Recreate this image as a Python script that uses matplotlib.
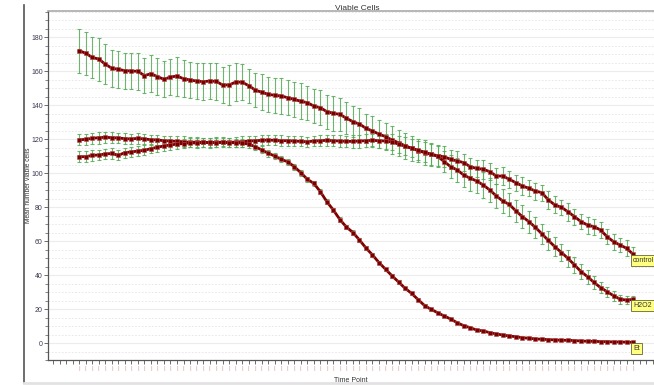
import numpy as np
import matplotlib
matplotlib.use("Agg")
import matplotlib.pyplot as plt
from matplotlib.lines import Line2D
from matplotlib.ticker import MultipleLocator, FixedLocator

plt.rcParams['font.family'] = ['Liberation Sans', 'DejaVu Sans']

control = [172.0, 170.4, 168.0, 167.0, 164.0, 161.6, 161.0, 160.2, 160.0, 159.8,
           157.3, 158.4, 156.7, 155.1, 156.5, 157.0, 155.5, 154.7, 154.1, 153.7,
           154.1, 153.9, 151.8, 151.8, 153.5, 153.4, 151.4, 148.8, 147.5, 146.3,
           145.7, 145.3, 144.3, 143.3, 142.2, 141.4, 139.4, 138.4, 136.1, 135.1,
           134.5, 132.2, 130.2, 128.8, 126.3, 124.7, 122.9, 121.4, 119.4, 117.8,
           116.0, 114.5, 113.2, 112.0, 111.0, 110.2, 109.6, 108.0, 107.1, 106.1,
           103.7, 102.7, 102.2, 100.8, 98.2, 98.2, 96.3, 94.3, 92.4, 91.0,
           89.4, 88.4, 84.1, 81.2, 79.8, 77.2, 74.3, 71.4, 69.4, 68.4,
           66.5, 62.5, 59.6, 57.6, 55.7, 52.2]
control_err = [12.9, 12.6, 12.2, 12.7, 11.6, 11.0, 11.0, 10.6, 10.8, 11.0,
               10.3, 10.9, 11.0, 10.5, 10.4, 11.5, 11.0, 10.6, 10.8, 10.8,
               10.8, 10.8, 10.4, 12.0, 11.3, 10.6, 10.0, 9.8, 10.6, 10.3,
               10.3, 10.3, 10.3, 10.5, 10.5, 10.0, 10.0, 10.3, 10.0, 10.2,
               9.6, 9.4, 9.0, 9.2, 8.6, 8.8, 8.2, 8.0, 8.4, 7.6,
               7.8, 7.2, 7.0, 7.4, 6.6, 6.2, 6.0, 5.6, 5.8, 5.2,
               5.4, 5.0, 5.6, 5.2, 4.8, 5.4, 5.0, 4.6, 5.2, 4.8,
               5.0, 4.6, 5.4, 5.0, 4.6, 5.2, 4.8, 4.4, 5.0, 4.6,
               4.8, 4.4, 4.6, 4.2, 4.6, 4.0]

h2o2 = [119.5, 119.8, 120.4, 120.8, 121.0, 120.8, 120.6, 120.2, 120.0, 120.4,
        120.0, 119.6, 119.4, 119.0, 118.8, 118.6, 118.4, 118.0, 118.2, 118.0,
        117.8, 118.0, 118.2, 118.0, 118.2, 118.4, 118.8, 119.0, 119.2, 119.4,
        119.2, 119.0, 119.0, 118.8, 118.6, 118.4, 118.8, 119.0, 119.2, 119.0,
        118.8, 118.6, 118.6, 118.8, 119.0, 119.2, 119.0, 118.8, 118.2, 117.0,
        115.8, 114.6, 113.4, 112.2, 111.0, 109.8, 106.7, 103.7, 101.8, 98.8,
        96.9, 95.3, 92.9, 90.0, 86.5, 83.5, 81.5, 77.7, 74.3, 71.4,
        68.0, 64.2, 60.3, 56.6, 53.2, 49.8, 45.9, 42.0, 39.0, 35.6,
        32.6, 30.2, 27.8, 25.8, 25.2, 25.7]
h2o2_err = [3.2, 3.4, 3.3, 3.5, 3.2, 3.1, 3.0, 3.3, 3.0, 3.1,
            3.0, 2.9, 3.1, 3.0, 2.8, 3.0, 3.1, 2.9, 3.0, 2.8,
            3.0, 2.9, 3.0, 2.8, 3.0, 3.1, 3.2, 3.0, 3.0, 3.1,
            3.0, 3.2, 3.0, 3.1, 3.0, 2.9, 3.0, 3.2, 3.4, 3.3,
            3.5, 3.4, 3.6, 3.8, 3.9, 4.0, 4.2, 4.4, 4.8, 5.0,
            5.2, 5.4, 5.6, 5.8, 6.0, 6.2, 6.4, 6.6, 6.8, 7.0,
            7.2, 7.0, 7.4, 7.2, 7.0, 7.2, 6.8, 6.6, 6.8, 6.4,
            6.2, 6.0, 5.8, 5.6, 5.2, 5.0, 4.6, 4.4, 4.0, 3.8,
            3.4, 3.0, 2.8, 2.6, 2.4, 2.2]

et = [109.6, 109.6, 110.4, 110.6, 111.2, 111.5, 110.4, 112.0, 112.4, 112.9,
      113.4, 114.3, 115.2, 115.9, 116.5, 117.0, 117.3, 117.8, 117.6, 118.0,
      118.0, 117.8, 118.0, 117.8, 117.8, 117.6, 117.0, 115.5, 113.6, 111.6,
      110.0, 108.0, 106.6, 103.7, 100.2, 96.3, 93.9, 89.0, 83.1, 78.2,
      72.6, 68.2, 65.0, 60.6, 55.9, 51.8, 47.3, 43.4, 39.5, 35.9,
      32.2, 29.2, 25.5, 22.0, 19.8, 17.8, 15.9, 14.1, 11.9, 10.2,
      9.0, 7.6, 7.1, 6.1, 5.3, 4.7, 4.1, 3.7, 3.1, 2.8,
      2.4, 2.2, 2.0, 1.8, 1.6, 1.6, 1.4, 1.2, 1.0, 1.0,
      0.8, 0.8, 0.6, 0.6, 0.5, 0.4]
et_err = [3.2, 3.4, 3.2, 3.0, 3.1, 3.0, 2.9, 3.0, 3.1, 3.0,
          3.0, 2.8, 2.9, 3.0, 2.8, 2.7, 2.8, 2.6, 2.7, 2.6,
          2.5, 2.6, 2.4, 2.5, 2.4, 2.3, 2.2, 2.0, 2.0, 1.9,
          1.9, 1.8, 1.8, 1.7, 1.7, 1.6, 1.6, 1.5, 1.5, 1.4,
          1.4, 1.3, 1.3, 1.2, 1.2, 1.1, 1.1, 1.0, 1.0, 0.9,
          0.9, 0.8, 0.8, 0.8, 0.7, 0.7, 0.6, 0.6, 0.6, 0.5,
          0.5, 0.5, 0.5, 0.4, 0.4, 0.4, 0.4, 0.3, 0.3, 0.3,
          0.3, 0.3, 0.3, 0.2, 0.2, 0.2, 0.2, 0.2, 0.2, 0.2,
          0.2, 0.2, 0.2, 0.2, 0.2, 0.2]

series = [("control", control, control_err),
          ("H2O2", h2o2, h2o2_err),
          ("Et", et, et_err)]

n_points = len(control)
time_points = np.arange(n_points)

fig = plt.figure(figsize=(6.54, 3.85), dpi=100)
ax = fig.add_axes([48.3 / 654, 25 / 385, 1 - 48.3 / 654, 349 / 385])

for name, vals, errs in series:
    ax.errorbar(time_points, vals, yerr=errs, fmt='none', ecolor='#55aa55',
                elinewidth=0.8, capsize=1.6, capthick=0.8, alpha=0.85, zorder=2)
for name, vals, errs in series:
    ax.plot(time_points, vals, color='#800000', lw=2.0, marker='s', ms=3.3,
            mfc='#7a0000', mec='#b05050', mew=0.4, zorder=3)
    ax.annotate(name, (time_points[-1], vals[-1]), xytext=(0, -2.0),
                textcoords='offset points', ha='left', va='top', fontsize=5,
                color='#333333', annotation_clip=False, zorder=5,
                bbox=dict(boxstyle='square,pad=0.25', fc='#ffff80',
                          ec='#666633', lw=0.6))

ax.set_xlim(-4.75, 88.2)
ax.set_ylim(-10, 195.3)

ax.yaxis.set_major_locator(MultipleLocator(20))
ax.yaxis.set_minor_locator(MultipleLocator(5))
ax.grid(which='major', axis='y', color='#ececec', lw=0.8, ls='-')
ax.grid(which='minor', axis='y', color='#e4e4e4', lw=0.6, ls=(0, (2, 2)))
ax.set_axisbelow(True)

ticks = list(range(-4, 89))
ax.xaxis.set_major_locator(FixedLocator(ticks))
ax.set_xticklabels(['|' if 0 <= t < n_points else '' for t in ticks],
                   fontsize=4.5, color='#d8a0a0')
ax.tick_params(axis='x', length=3, width=0.6, color='#555555', pad=1.5)
ax.tick_params(axis='y', which='major', length=3, width=0.6, color='#555555',
               labelsize=5, labelcolor='#3a3a50', pad=1)
ax.tick_params(axis='y', which='minor', length=2, width=0.5, color='#555555')

ax.spines['right'].set_visible(False)
ax.spines['top'].set_color('#aaaaaa')
ax.spines['top'].set_linewidth(1.2)
ax.spines['left'].set_color('#555555')
ax.spines['bottom'].set_color('#555555')
ax.spines['left'].set_linewidth(0.9)
ax.spines['bottom'].set_linewidth(0.9)

ax.set_ylabel('Mean number viable cells', fontsize=4.8, color='#333333')
ax.yaxis.set_label_coords(-0.027, 0.5)
ax.set_xlabel('Time Point', fontsize=5, color='#333333', labelpad=4)
fig.text(335 / 654, 1 - 9.5 / 385, 'Viable Cells', fontsize=6, color='#333333',
         ha='left', va='baseline')

# outer frame
fig.add_artist(Line2D([24 / 654, 24 / 654], [2 / 385, 1 - 5 / 385],
                      color='#555555', lw=1.2))
fig.add_artist(Line2D([24 / 654, 1], [2 / 385, 2 / 385], color='#e2e2e2', lw=2))

fig.savefig('out.png', dpi=100)
